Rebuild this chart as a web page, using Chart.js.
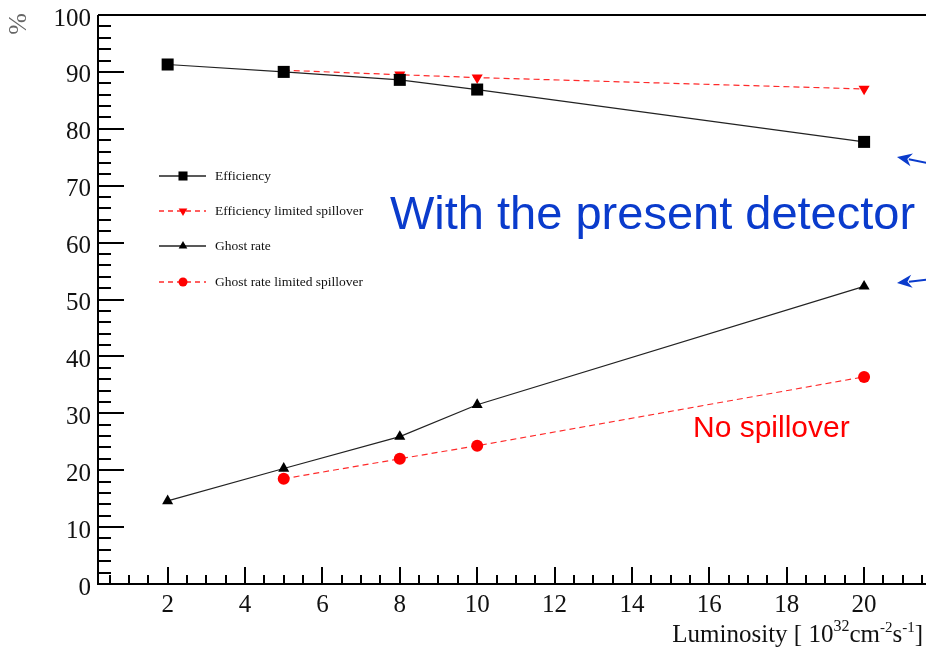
<!DOCTYPE html>
<html lang="en">
<head>
<meta charset="UTF-8">
<title>Efficiency and ghost rate vs luminosity</title>
<script src="https://cdn.jsdelivr.net/npm/chart.js"></script>
<style>
  html, body { margin: 0; padding: 0; background: #fff; overflow: hidden; }
  #wrap { width: 926px; height: 648px; position: relative; }
</style>
</head>
<body>
<div id="wrap"><canvas id="lumiChart"></canvas></div>
<script>
// values
const effLumi = [2, 5, 8, 10, 20];
const efficiency = [91.3, 90.0, 88.6, 86.9, 77.7];
const effLtdLumi = [5, 8, 10, 20];
const efficiencyLtd = [90.3, 89.5, 89.0, 87.0];
const ghostLumi = [2, 5, 8, 10, 20];
const ghostRate = [14.6, 20.3, 25.9, 31.5, 52.3];
const ghostLtdLumi = [5, 8, 10, 20];
const ghostRateLtd = [18.5, 22.0, 24.3, 36.4];
const seriesNames = ['Efficiency', 'Efficiency limited spillover', 'Ghost rate', 'Ghost rate limited spillover'];
const xTickLabels = [2, 4, 6, 8, 10, 12, 14, 16, 18, 20];
const yTickLabels = [0, 10, 20, 30, 40, 50, 60, 70, 80, 90, 100];

const serif = '"Liberation Serif", "Times New Roman", serif';
const sans = '"Liberation Sans", Arial, Helvetica, sans-serif';
const blue = '#0a3bcc';

function toPoints(xs, ys) {
    return xs.map((x, i) => ({ x: x, y: ys[i] }));
}

const styles = [
    { color: '#000', line: '#222', dash: [], pointStyle: 'rect', radius: 8.5, rotation: 0, legendRadius: 6.4 },
    { color: '#ff0000', line: '#ff2a2a', dash: [6, 4], pointStyle: 'triangle', radius: 6.4, rotation: 180, legendRadius: 5 },
    { color: '#000', line: '#222', dash: [], pointStyle: 'triangle', radius: 6.4, rotation: 0, legendRadius: 5 },
    { color: '#ff0000', line: '#ff2a2a', dash: [6, 4], pointStyle: 'circle', radius: 6, rotation: 0, legendRadius: 4.5 }
];
const seriesData = [
    toPoints(effLumi, efficiency),
    toPoints(effLtdLumi, efficiencyLtd),
    toPoints(ghostLumi, ghostRate),
    toPoints(ghostLtdLumi, ghostRateLtd)
];

const datasets = seriesData.map((pts, i) => ({
    label: seriesNames[i],
    data: pts,
    borderColor: styles[i].line,
    borderWidth: 1.2,
    borderDash: styles[i].dash,
    tension: 0,
    pointStyle: styles[i].pointStyle,
    pointRadius: styles[i].radius,
    pointRotation: styles[i].rotation,
    pointBackgroundColor: styles[i].color,
    pointBorderColor: styles[i].color,
    pointBorderWidth: 0,
    pointHoverRadius: styles[i].radius
}));

function arrow(ctx, x1, y1, x2, y2) {
    // from (x1,y1) to tip (x2,y2)
    const ang = Math.atan2(y2 - y1, x2 - x1);
    const len = 15, half = 6.5;
    ctx.strokeStyle = blue;
    ctx.fillStyle = blue;
    ctx.lineWidth = 2;
    ctx.beginPath();
    ctx.moveTo(x1, y1);
    ctx.lineTo(x2 - Math.cos(ang) * len * 0.8, y2 - Math.sin(ang) * len * 0.8);
    ctx.stroke();
    ctx.beginPath();
    ctx.moveTo(x2, y2);
    ctx.lineTo(x2 - Math.cos(ang) * len - Math.sin(ang) * half, y2 - Math.sin(ang) * len + Math.cos(ang) * half);
    ctx.lineTo(x2 - Math.cos(ang) * len * 0.7, y2 - Math.sin(ang) * len * 0.7);
    ctx.lineTo(x2 - Math.cos(ang) * len + Math.sin(ang) * half, y2 - Math.sin(ang) * len - Math.cos(ang) * half);
    ctx.closePath();
    ctx.fill();
}

const framePlugin = {
    id: 'frameAndNotes',
    afterDraw(chart) {
        const ctx = chart.ctx;
        const xs = chart.scales.x, ys = chart.scales.y;
        const area = chart.chartArea;
        ctx.save();

        // axes + top frame
        ctx.strokeStyle = '#000';
        ctx.lineWidth = 2;
        ctx.setLineDash([]);
        ctx.beginPath();
        ctx.moveTo(area.left, ys.getPixelForValue(100));
        ctx.lineTo(area.left, ys.getPixelForValue(0));
        ctx.lineTo(area.right, ys.getPixelForValue(0));
        ctx.moveTo(area.left, ys.getPixelForValue(100));
        ctx.lineTo(area.right, ys.getPixelForValue(100));
        ctx.stroke();

        // inward ticks, ROOT style
        ctx.beginPath();
        for (let v = 0.5; v < xs.max; v += 0.5) {
            const px = Math.round(xs.getPixelForValue(v));
            const major = Math.abs(v / 2 - Math.round(v / 2)) < 1e-6;
            const b = ys.getPixelForValue(0);
            ctx.moveTo(px, b);
            ctx.lineTo(px, b - (major ? 17 : 9));
        }
        for (let v = 2; v < 100; v += 2) {
            const py = Math.round(ys.getPixelForValue(v));
            const major = v % 10 === 0;
            ctx.moveTo(area.left, py);
            ctx.lineTo(area.left + (major ? 26 : 13), py);
        }
        ctx.stroke();

        // legend
        const rows = [176, 211, 246, 282];
        rows.forEach((ry, i) => {
            const s = styles[i];
            ctx.strokeStyle = s.line;
            ctx.lineWidth = 1.3;
            ctx.setLineDash(s.dash.length ? [5, 4] : []);
            ctx.beginPath();
            ctx.moveTo(159, ry);
            ctx.lineTo(206, ry);
            ctx.stroke();
            ctx.setLineDash([]);
            ctx.fillStyle = s.color;
            ctx.strokeStyle = s.color;
            Chart.helpers.drawPoint(ctx, {
                pointStyle: s.pointStyle, radius: s.legendRadius, rotation: s.rotation, borderWidth: 0
            }, 183, ry);
            ctx.fillStyle = '#111';
            ctx.font = '13.5px ' + serif;
            ctx.textAlign = 'left';
            ctx.textBaseline = 'middle';
            ctx.fillText(seriesNames[i], 215, ry);
        });

        // annotations
        ctx.textBaseline = 'alphabetic';
        ctx.textAlign = 'left';
        ctx.fillStyle = blue;
        ctx.font = '47px ' + sans;
        ctx.fillText('With the present detector', 390, 229);
        ctx.fillStyle = '#ff0000';
        ctx.font = '30px ' + sans;
        ctx.fillText('No spillover', 693, 437);
        arrow(ctx, 932, 164, 897, 157);
        arrow(ctx, 932, 279, 897, 283);

        // x title with superscripts
        const parts = [
            ['Luminosity [ 10', 25, 0], ['32', 16, -11], ['cm', 25, 0],
            ['-2', 15, -10], ['s', 25, 0], ['-1', 15, -10], [']', 25, 0]
        ];
        let total = 0;
        parts.forEach(p => { ctx.font = p[1] + 'px ' + serif; total += ctx.measureText(p[0]).width; });
        let tx = 923 - total;
        ctx.fillStyle = '#111';
        parts.forEach(p => {
            ctx.font = p[1] + 'px ' + serif;
            ctx.fillText(p[0], tx, 642 + p[2]);
            tx += ctx.measureText(p[0]).width;
        });

        // y title
        ctx.save();
        ctx.translate(19, 24);
        ctx.rotate(-Math.PI / 2);
        ctx.fillStyle = '#666';
        ctx.font = '26px ' + serif;
        ctx.textAlign = 'center';
        ctx.textBaseline = 'middle';
        ctx.fillText('%', 0, 0);
        ctx.restore();

        ctx.restore();
    }
};

new Chart(document.getElementById('lumiChart'), {
    type: 'line',
    data: { datasets: datasets },
    plugins: [framePlugin],
    options: {
        responsive: true,
        maintainAspectRatio: false,
        animation: false,
        layout: { autoPadding: false, padding: { top: 15, left: 0, right: 0, bottom: 0 } },
        plugins: {
            legend: { display: false },
            tooltip: { enabled: false }
        },
        scales: {
            x: {
                type: 'linear',
                min: 0.2,
                max: 21.6,
                grid: { display: false, drawTicks: false, tickLength: 0 },
                border: { display: false },
                ticks: {
                    stepSize: 2,
                    includeBounds: false,
                    autoSkip: false,
                    maxRotation: 0,
                    padding: 6,
                    color: '#111',
                    font: { family: serif, size: 25 },
                    callback: v => (xTickLabels.includes(v) ? v : '')
                },
                afterFit: s => { s.height = 64; s.paddingLeft = 0; s.paddingRight = 0; }
            },
            y: {
                min: 0,
                max: 100,
                grid: { display: false, drawTicks: false, tickLength: 0 },
                border: { display: false },
                ticks: {
                    stepSize: 10,
                    padding: 7,
                    labelOffset: 4,
                    color: '#111',
                    font: { family: serif, size: 25 },
                    callback: v => (yTickLabels.includes(v) ? v : '')
                },
                afterFit: s => { s.width = 98; s.paddingTop = 0; s.paddingBottom = 0; }
            }
        }
    }
});
</script>
</body>
</html>
